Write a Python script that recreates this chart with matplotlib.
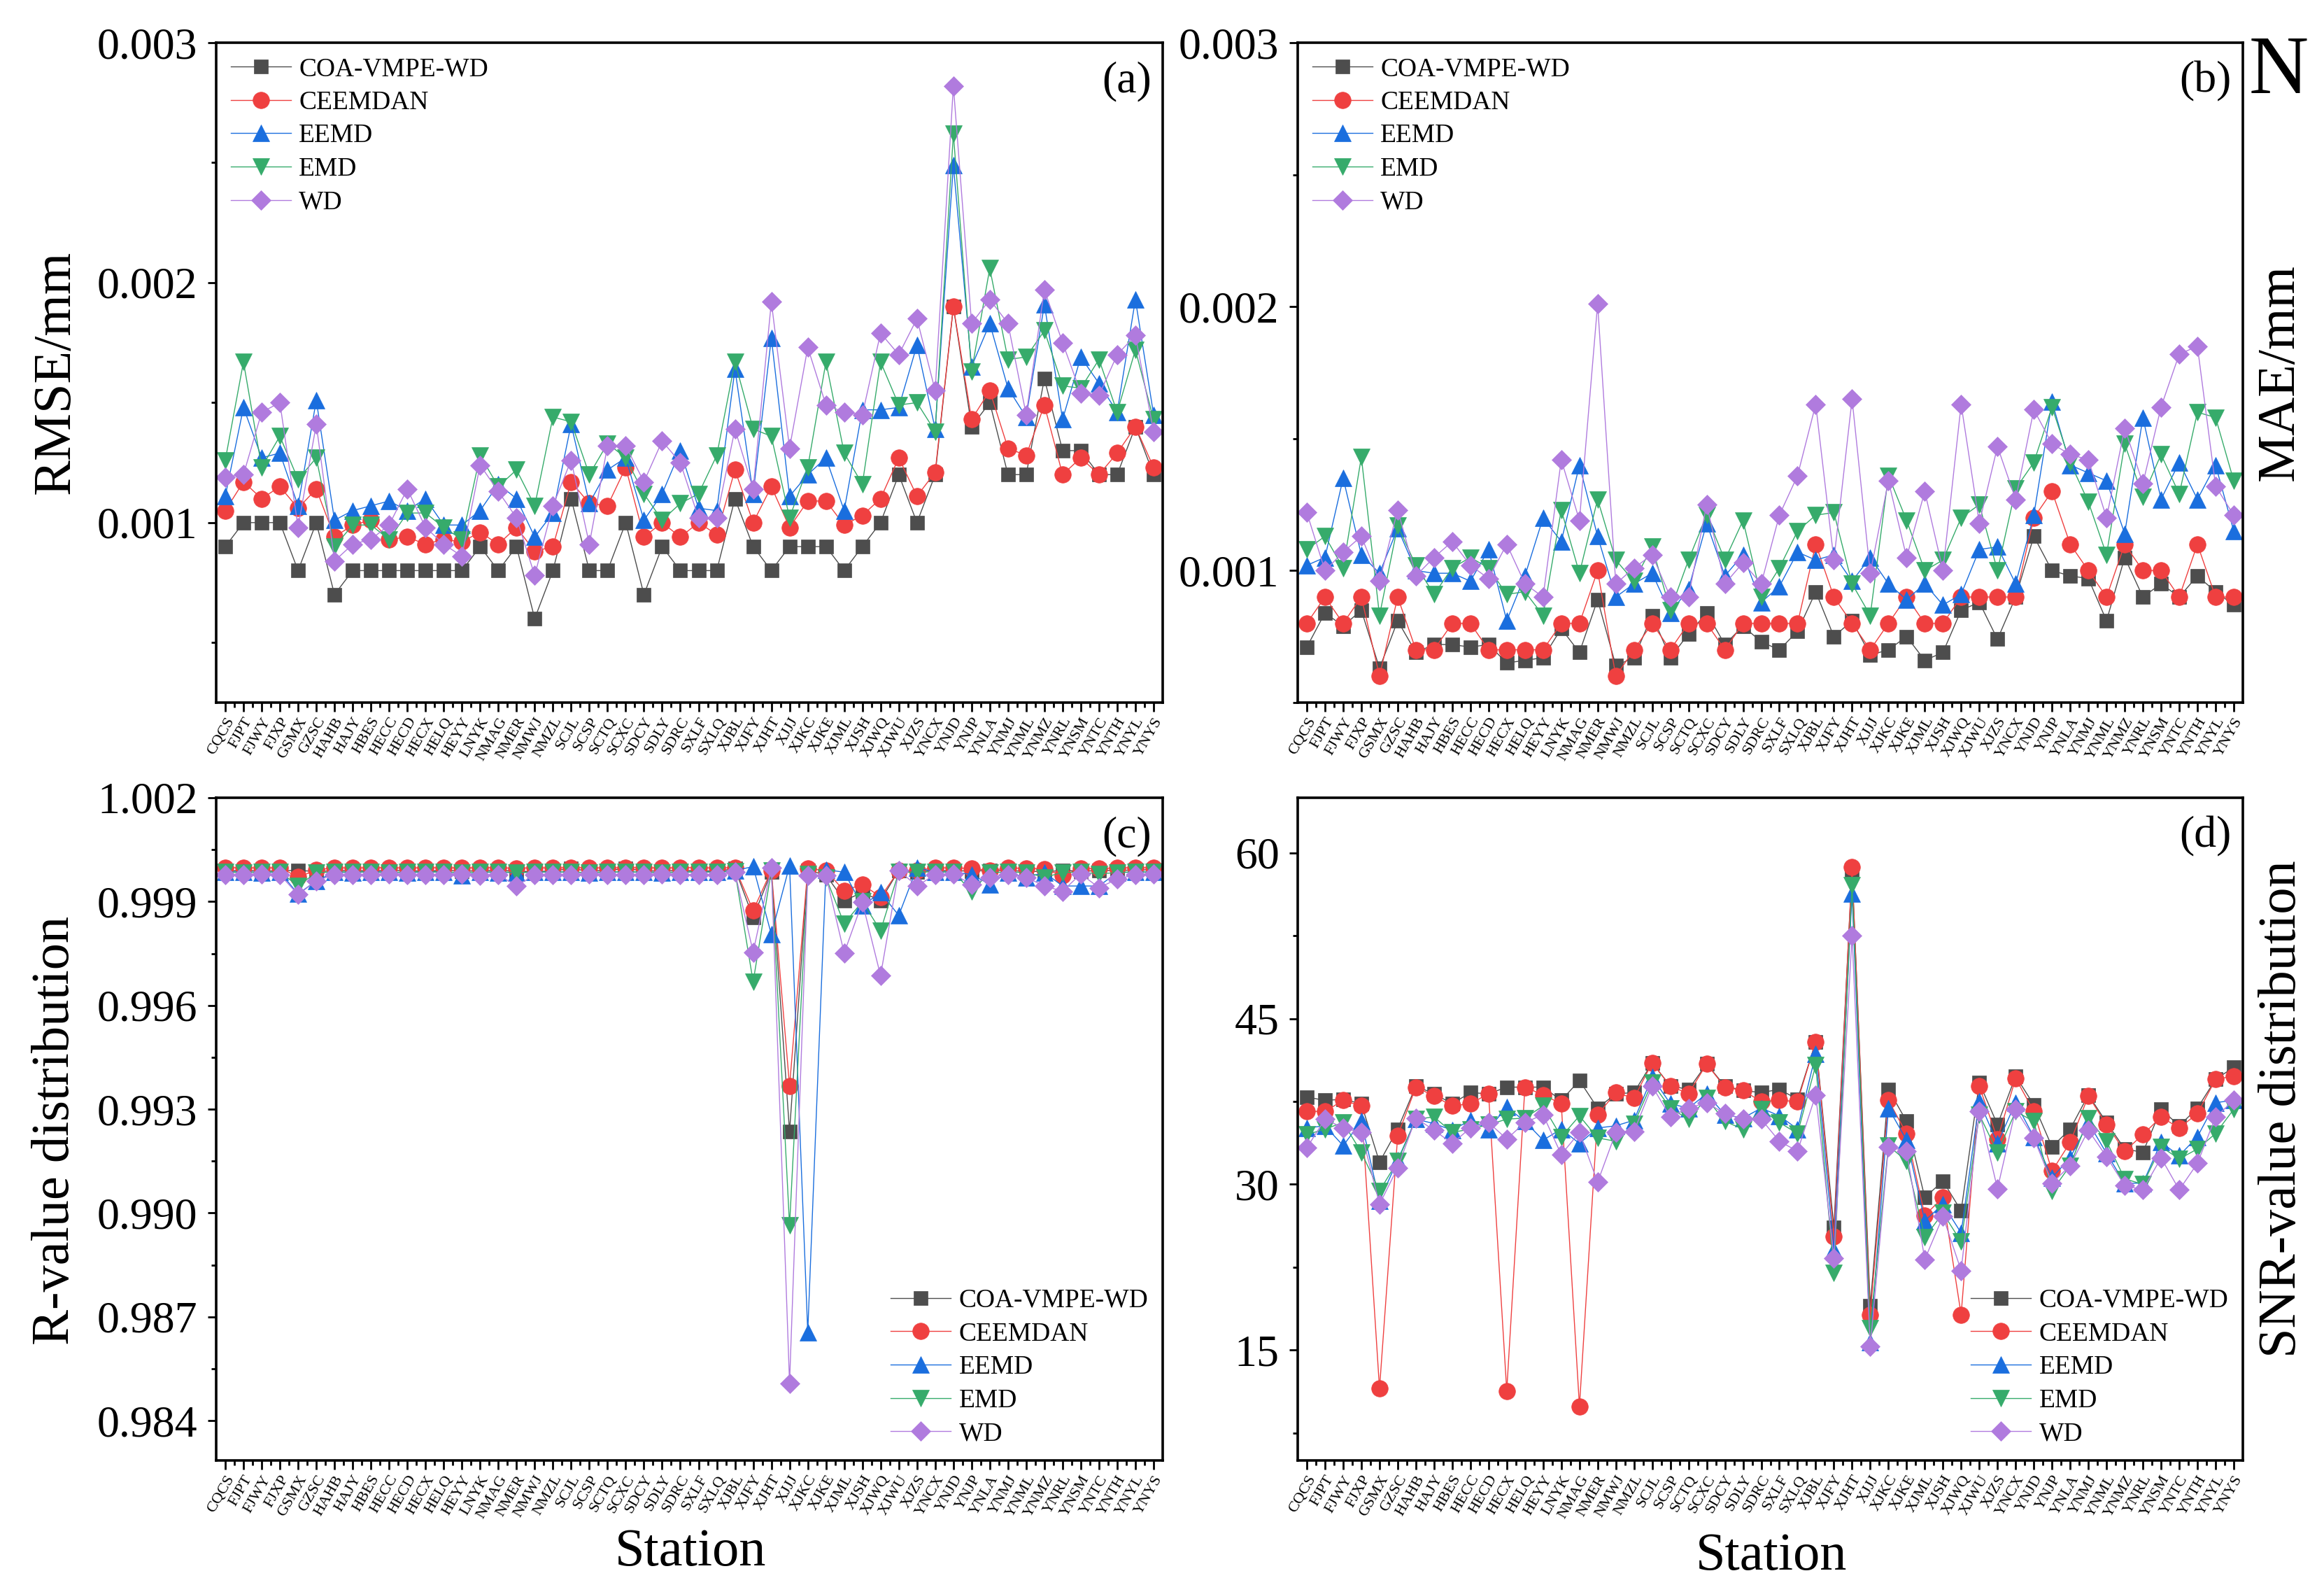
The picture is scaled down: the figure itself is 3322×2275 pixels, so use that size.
import matplotlib
matplotlib.use('Agg')
import matplotlib.pyplot as plt
from matplotlib.ticker import FixedLocator, FormatStrFormatter
import numpy as np

plt.rcParams['font.family'] = ['Liberation Serif', 'DejaVu Serif']

stations = ['CQCS', 'FJPT', 'FJWY', 'FJXP', 'GSMX', 'GZSC', 'HAHB', 'HAJY', 'HBES', 'HECC',
            'HECD', 'HECX', 'HELQ', 'HEYY', 'LNYK', 'NMAG', 'NMER', 'NMWJ', 'NMZL', 'SCJL',
            'SCSP', 'SCTQ', 'SCXC', 'SDCY', 'SDLY', 'SDRC', 'SXLF', 'SXLQ', 'XJBL', 'XJFY',
            'XJHT', 'XJJJ', 'XJKC', 'XJKE', 'XJML', 'XJSH', 'XJWQ', 'XJWU', 'XJZS', 'YNCX',
            'YNJD', 'YNJP', 'YNLA', 'YNMJ', 'YNML', 'YNMZ', 'YNRL', 'YNSM', 'YNTC', 'YNTH',
            'YNYL', 'YNYS']

names = ['COA-VMPE-WD', 'CEEMDAN', 'EEMD', 'EMD', 'WD']

# (a) RMSE
rmse_coa = [0.0009, 0.001, 0.001, 0.001, 0.0008, 0.001, 0.0007, 0.0008, 0.0008, 0.0008,
            0.0008, 0.0008, 0.0008, 0.0008, 0.0009, 0.0008, 0.0009, 0.0006, 0.0008, 0.0011,
            0.0008, 0.0008, 0.001, 0.0007, 0.0009, 0.0008, 0.0008, 0.0008, 0.0011, 0.0009,
            0.0008, 0.0009, 0.0009, 0.0009, 0.0008, 0.0009, 0.001, 0.0012, 0.001, 0.0012,
            0.0019, 0.0014, 0.0015, 0.0012, 0.0012, 0.0016, 0.0013, 0.0013, 0.0012, 0.0012,
            0.0014, 0.0012]
rmse_ceemdan = [0.00105, 0.00117, 0.0011, 0.00115, 0.00106, 0.00114, 0.00094, 0.00099, 0.00101, 0.00093,
                0.00094, 0.00091, 0.00093, 0.00092, 0.00096, 0.00091, 0.00098, 0.00088, 0.0009, 0.00117,
                0.00108, 0.00107, 0.00123, 0.00094, 0.001, 0.00094, 0.001, 0.00095, 0.00122, 0.001,
                0.00115, 0.00098, 0.00109, 0.00109, 0.00099, 0.00103, 0.0011, 0.00127, 0.00111, 0.00121,
                0.0019, 0.00143, 0.00155, 0.00131, 0.00128, 0.00149, 0.0012, 0.00127, 0.0012, 0.00129,
                0.0014, 0.00123]
rmse_eemd = [0.00111, 0.00148, 0.00127, 0.00129, 0.00107, 0.00151, 0.00101, 0.00105, 0.00107, 0.00109,
             0.00105, 0.0011, 0.00099, 0.00099, 0.00105, 0.00116, 0.0011, 0.00094, 0.00104, 0.00141,
             0.00108, 0.00122, 0.00127, 0.00101, 0.00112, 0.0013, 0.00106, 0.00105, 0.00164, 0.00112,
             0.00177, 0.00111, 0.0012, 0.00127, 0.00105, 0.00147, 0.00147, 0.00148, 0.00174, 0.00139,
             0.00249, 0.00165, 0.00183, 0.00156, 0.00144, 0.00191, 0.00143, 0.00169, 0.00158, 0.00146,
             0.00193, 0.00145]
rmse_emd = [0.00126, 0.00167, 0.00123, 0.00136, 0.00118, 0.00127, 0.0009, 0.00099, 0.00099, 0.00093,
            0.00104, 0.00104, 0.00098, 0.00093, 0.00128, 0.00115, 0.00122, 0.00107, 0.00144, 0.00142,
            0.0012, 0.00133, 0.00127, 0.00112, 0.00101, 0.00108, 0.00112, 0.00128, 0.00167, 0.00139,
            0.00136, 0.00102, 0.00123, 0.00167, 0.00129, 0.00116, 0.00167, 0.00149, 0.0015, 0.00138,
            0.00262, 0.00163, 0.00206, 0.00168, 0.00169, 0.0018, 0.00157, 0.00156, 0.00168, 0.00146,
            0.00172, 0.00143]
rmse_wd = [0.00119, 0.0012, 0.00146, 0.0015, 0.00098, 0.00141, 0.00084, 0.00091, 0.00093, 0.00099,
           0.00114, 0.00098, 0.00091, 0.00086, 0.00124, 0.00113, 0.00102, 0.00078, 0.00107, 0.00126,
           0.00091, 0.00132, 0.00132, 0.00117, 0.00134, 0.00125, 0.00102, 0.00102, 0.00139, 0.00114,
           0.00192, 0.00131, 0.00173, 0.00149, 0.00146, 0.00145, 0.00179, 0.0017, 0.00185, 0.00155,
           0.00282, 0.00183, 0.00193, 0.00183, 0.00145, 0.00197, 0.00175, 0.00154, 0.00153, 0.0017,
           0.00178, 0.00138]

# (b) MAE
mae_coa = [0.00071, 0.00084, 0.00079, 0.00085, 0.00063, 0.00081, 0.00069, 0.00072, 0.00072, 0.00071,
           0.00072, 0.00065, 0.00066, 0.00067, 0.00078, 0.00069, 0.00089, 0.00064, 0.00067, 0.00083,
           0.00067, 0.00076, 0.00084, 0.00072, 0.00079, 0.00073, 0.0007, 0.00077, 0.00092, 0.00075,
           0.00081, 0.00068, 0.0007, 0.00075, 0.00066, 0.00069, 0.00085, 0.00088, 0.00074, 0.0009,
           0.00113, 0.001, 0.00098, 0.00097, 0.00081, 0.00105, 0.0009, 0.00095, 0.0009, 0.00098,
           0.00092, 0.00087]
mae_ceemdan = [0.0008, 0.0009, 0.0008, 0.0009, 0.0006, 0.0009, 0.0007, 0.0007, 0.0008, 0.0008,
               0.0007, 0.0007, 0.0007, 0.0007, 0.0008, 0.0008, 0.001, 0.0006, 0.0007, 0.0008,
               0.0007, 0.0008, 0.0008, 0.0007, 0.0008, 0.0008, 0.0008, 0.0008, 0.0011, 0.0009,
               0.0008, 0.0007, 0.0008, 0.0009, 0.0008, 0.0008, 0.0009, 0.0009, 0.0009, 0.0009,
               0.0012, 0.0013, 0.0011, 0.001, 0.0009, 0.0011, 0.001, 0.001, 0.0009, 0.0011,
               0.0009, 0.0009]
mae_eemd = [0.00102, 0.00105, 0.00135, 0.00106, 0.00099, 0.00116, 0.001, 0.00099, 0.00099, 0.00096,
            0.00108, 0.00081, 0.00098, 0.0012, 0.00111, 0.0014, 0.00113, 0.0009, 0.00095, 0.00099,
            0.00084, 0.00093, 0.00118, 0.00098, 0.00106, 0.00088, 0.00094, 0.00107, 0.00104, 0.00106,
            0.00096, 0.00105, 0.00095, 0.00089, 0.00095, 0.00087, 0.00091, 0.00108, 0.00109, 0.00095,
            0.00121, 0.00164, 0.0014, 0.00137, 0.00134, 0.00114, 0.00158, 0.00127, 0.00141, 0.00127,
            0.0014, 0.00115]
mae_emd = [0.00108, 0.00113, 0.00101, 0.00143, 0.00083, 0.00117, 0.00102, 0.00091, 0.00101, 0.00105,
           0.00101, 0.00091, 0.00092, 0.00083, 0.00123, 0.00099, 0.00127, 0.00104, 0.00096, 0.00109,
           0.00085, 0.00104, 0.00121, 0.00104, 0.00119, 0.0009, 0.00101, 0.00115, 0.00121, 0.00122,
           0.00095, 0.00083, 0.00136, 0.00119, 0.001, 0.00104, 0.0012, 0.00125, 0.001, 0.00131,
           0.00141, 0.00162, 0.00141, 0.00126, 0.00106, 0.00148, 0.00128, 0.00144, 0.00129, 0.0016,
           0.00158, 0.00134]
mae_wd = [0.00122, 0.001, 0.00107, 0.00113, 0.00096, 0.00123, 0.00098, 0.00105, 0.00111, 0.00102,
          0.00097, 0.0011, 0.00095, 0.0009, 0.00142, 0.00119, 0.00201, 0.00095, 0.00101, 0.00106,
          0.0009, 0.0009, 0.00125, 0.00095, 0.00103, 0.00095, 0.00121, 0.00136, 0.00163, 0.00104,
          0.00165, 0.00099, 0.00134, 0.00105, 0.0013, 0.001, 0.00163, 0.00118, 0.00147, 0.00127,
          0.00161, 0.00148, 0.00144, 0.00142, 0.0012, 0.00154, 0.00133, 0.00162, 0.00182, 0.00185,
          0.00132, 0.00121]

# (c) R
r_coa = [0.99988, 0.99990, 0.99988, 0.99989, 0.99990, 0.99987, 0.99989, 0.99990, 0.99988, 0.99990,
         0.99989, 0.99988, 0.99990, 0.99988, 0.99989, 0.99990, 0.99988, 0.99986, 0.99989, 0.99995,
         0.99988, 0.99990, 0.99995, 0.99989, 0.99988, 0.99990, 0.99989, 0.99988, 0.99995, 0.99854,
         0.99986, 0.99235, 0.99990, 0.99977, 0.99903, 0.99926, 0.99903, 0.99990, 0.99985, 0.99990,
         0.99989, 0.99988, 0.99990, 0.99989, 0.99988, 0.99986, 0.99990, 0.99988, 0.99989, 0.99990,
         0.99991, 0.99992]
r_ceemdan = [0.99998, 0.99998, 0.99997, 0.99998, 0.99971, 0.99991, 0.99998, 0.99997, 0.99998, 0.99998,
             0.99997, 0.99998, 0.99998, 0.99997, 0.99998, 0.99998, 0.99996, 0.99998, 0.99997, 0.99998,
             0.99998, 0.99997, 0.99998, 0.99998, 0.99997, 0.99998, 0.99998, 0.99997, 0.99998, 0.99874,
             0.99990, 0.99367, 0.99995, 0.99990, 0.99931, 0.99950, 0.99913, 0.99990, 0.99990, 0.99998,
             0.99997, 0.99996, 0.99990, 0.99997, 0.99996, 0.99994, 0.99975, 0.99996, 0.99995, 0.99997,
             0.99998, 0.99998]
r_eemd = [0.99985, 0.99986, 0.99984, 0.99985, 0.99922, 0.99960, 0.99985, 0.99984, 0.99986, 0.99985,
          0.99984, 0.99985, 0.99986, 0.99975, 0.99985, 0.99984, 0.99984, 0.99985, 0.99986, 0.99985,
          0.99984, 0.99985, 0.99986, 0.99985, 0.99984, 0.99985, 0.99986, 0.99985, 0.99990, 1.00001,
          0.99805, 1.00004, 0.98655, 0.99992, 0.99985, 0.99888, 0.99926, 0.99860, 0.99998, 0.99985,
          0.99986, 0.99978, 0.99950, 0.99984, 0.99970, 0.99984, 0.99945, 0.99945, 0.99945, 0.99984,
          0.99985, 0.99986]
r_emd = [0.99985, 0.99984, 0.99985, 0.99986, 0.99945, 0.99984, 0.99985, 0.99986, 0.99985, 0.99984,
         0.99985, 0.99986, 0.99985, 0.99984, 0.99985, 0.99986, 0.99984, 0.99985, 0.99986, 0.99985,
         0.99984, 0.99985, 0.99986, 0.99985, 0.99984, 0.99985, 0.99986, 0.99985, 0.99988, 0.99668,
         0.99990, 0.98964, 0.99980, 0.99970, 0.99836, 0.99900, 0.99816, 0.99985, 0.99985, 0.99986,
         0.99985, 0.99930, 0.99984, 0.99985, 0.99984, 0.99970, 0.99984, 0.99985, 0.99980, 0.99984,
         0.99986, 0.99985]
r_wd = [0.99978, 0.99977, 0.99979, 0.99978, 0.99920, 0.99960, 0.99978, 0.99977, 0.99978, 0.99979,
        0.99978, 0.99977, 0.99978, 0.99979, 0.99975, 0.99978, 0.99945, 0.99978, 0.99977, 0.99978,
        0.99979, 0.99978, 0.99977, 0.99978, 0.99979, 0.99978, 0.99977, 0.99978, 0.99985, 0.99754,
        0.99998, 0.98508, 0.99976, 0.99976, 0.99751, 0.99898, 0.99686, 0.99990, 0.99945, 0.99978,
        0.99979, 0.99950, 0.99970, 0.99978, 0.99970, 0.99945, 0.99930, 0.99980, 0.99940, 0.99965,
        0.99978, 0.99980]

# (d) SNR
snr_coa = [37.9, 37.6, 37.7, 37.3, 32.0, 35.0, 38.9, 38.2, 37.3, 38.3,
           38.2, 38.8, 38.8, 38.8, 37.6, 39.4, 36.9, 38.2, 38.3, 41.0,
           38.9, 38.6, 40.9, 38.9, 38.5, 38.3, 38.6, 37.7, 42.9, 26.1,
           58.5, 19.0, 38.6, 35.7, 28.8, 30.3, 27.6, 39.2, 35.4, 39.8,
           37.2, 33.4, 35.0, 38.1, 35.6, 33.2, 32.9, 36.8, 35.3, 36.9,
           39.5, 40.6]
snr_ceemdan = [36.6, 36.6, 37.6, 37.1, 11.5, 34.4, 38.8, 38.0, 37.1, 37.3,
               38.2, 11.3, 38.8, 38.1, 37.3, 9.9, 36.3, 38.3, 37.8, 41.0,
               38.9, 38.2, 40.9, 38.8, 38.5, 37.5, 37.6, 37.5, 42.9, 25.3,
               58.7, 18.2, 37.6, 34.6, 27.2, 28.8, 18.2, 38.9, 34.1, 39.6,
               36.6, 31.2, 33.8, 38.0, 35.4, 33.0, 34.5, 36.1, 35.1, 36.4,
               39.5, 39.8]
snr_eemd = [35.1, 35.3, 33.5, 35.7, 28.5, 32.2, 35.9, 35.5, 34.9, 35.8,
            35.0, 37.0, 35.7, 34.0, 35.0, 33.7, 35.1, 35.3, 35.8, 39.7,
            37.3, 36.9, 38.2, 36.3, 36.0, 36.9, 36.2, 35.0, 41.8, 24.1,
            56.3, 15.7, 36.9, 34.0, 26.7, 28.2, 25.6, 37.5, 33.7, 37.4,
            34.3, 30.6, 32.4, 35.6, 32.8, 30.1, 30.1, 33.8, 32.6, 34.3,
            37.4, 37.6]
snr_emd = [34.5, 35.0, 35.6, 32.9, 29.4, 32.1, 35.9, 36.1, 34.7, 35.0,
           35.4, 35.9, 36.0, 37.1, 34.3, 36.2, 34.2, 33.9, 35.5, 39.2,
           36.9, 35.9, 37.8, 35.7, 35.0, 36.8, 35.6, 34.6, 40.8, 22.0,
           57.1, 17.0, 33.5, 32.1, 25.2, 27.4, 24.8, 36.3, 32.9, 36.6,
           35.7, 29.4, 31.7, 36.0, 33.9, 30.5, 30.0, 33.4, 32.3, 33.2,
           34.6, 36.8]
snr_wd = [33.3, 35.9, 35.1, 34.7, 28.2, 31.5, 36.0, 34.9, 33.7, 35.1,
          35.6, 34.1, 35.6, 36.3, 32.7, 34.7, 30.2, 34.7, 34.8, 38.9,
          36.1, 36.9, 37.4, 36.4, 35.9, 35.9, 33.9, 33.0, 38.1, 23.3,
          52.5, 15.3, 33.4, 33.0, 23.2, 27.1, 22.2, 36.6, 29.6, 36.8,
          34.2, 30.1, 31.7, 34.9, 32.5, 29.9, 29.5, 32.4, 29.5, 31.9,
          36.1, 37.6]

colors = ['#4d4d4d', '#ef4040', '#1a6ede', '#36ab6b', '#b07bde']
markers = ['s', 'o', '^', 'v', 'D']
msizes = [15, 17, 17, 17, 14.5]

W, H = 3322, 2275
fig = plt.figure(figsize=(W / 100, H / 100), dpi=100)
L1, R1 = 309 / W, 1662 / W
L2, R2 = 1855 / W, 3206 / W
T1, B1 = 1 - 61 / H, 1 - 1004 / H
T2, B2 = 1 - 1140 / H, 1 - 2087 / H

ax_a = fig.add_axes([L1, B1, R1 - L1, T1 - B1])
ax_b = fig.add_axes([L2, B1, R2 - L2, T1 - B1])
ax_c = fig.add_axes([L1, B2, R1 - L1, T2 - B2])
ax_d = fig.add_axes([L2, B2, R2 - L2, T2 - B2])


def draw(ax, series, ylim, majors, minors, fmt, loc, tag, ypad):
    x = np.arange(len(stations))
    for name, vals, c, m, ms in zip(names, series, colors, markers, msizes):
        ax.plot(x, vals, color=c, lw=1.0, marker=m, ms=ms, mec=c, mew=0.5, label=name)
    ax.set_xlim(-0.5, len(stations) - 0.5)
    ax.set_ylim(*ylim)
    ax.xaxis.set_major_locator(FixedLocator(x))
    ax.set_xticklabels(stations, rotation=60, ha='right', rotation_mode='anchor', fontsize=16)
    ax.xaxis.set_minor_locator(FixedLocator(x[:-1] + 0.5))
    ax.yaxis.set_major_locator(FixedLocator(majors))
    ax.yaxis.set_minor_locator(FixedLocator(minors))
    ax.yaxis.set_major_formatter(FormatStrFormatter(fmt))
    ax.tick_params(which='both', direction='out', top=False, right=False, width=2)
    ax.tick_params(which='major', length=9)
    ax.tick_params(which='minor', length=5)
    ax.tick_params(axis='y', labelsize=46, pad=ypad)
    ax.tick_params(axis='x', pad=4)
    for s in ax.spines.values():
        s.set_linewidth(2.6)
    ax.legend(loc=loc, frameon=False, fontsize=27, handlelength=2.3, handletextpad=0.3,
              labelspacing=0.35, borderpad=0.35, borderaxespad=0.2, numpoints=1)
    ax.text(0.988, 0.972, tag, transform=ax.transAxes, ha='right', va='top', fontsize=46)


draw(ax_a, [rmse_coa, rmse_ceemdan, rmse_eemd, rmse_emd, rmse_wd], (0.00025, 0.003),
     [0.001, 0.002, 0.003], [0.0005, 0.0015, 0.0025], '%.3f', 'upper left', '(a)', 10)
draw(ax_b, [mae_coa, mae_ceemdan, mae_eemd, mae_emd, mae_wd], (0.0005, 0.003),
     [0.001, 0.002, 0.003], [0.0005, 0.0015, 0.0025], '%.3f', 'upper left', '(b)', 10)
draw(ax_c, [r_coa, r_ceemdan, r_eemd, r_emd, r_wd], (0.98285, 1.002),
     [0.984, 0.987, 0.990, 0.993, 0.996, 0.999, 1.002],
     [0.9855, 0.9885, 0.9915, 0.9945, 0.9975, 1.0005], '%.3f', 'lower right', '(c)', 10)
draw(ax_d, [snr_coa, snr_ceemdan, snr_eemd, snr_emd, snr_wd], (5, 65),
     [15, 30, 45, 60], [7.5, 22.5, 37.5, 52.5], '%d', 'lower right', '(d)', 10)

fig.text(80 / W, 1 - 532 / H, 'RMSE/mm', rotation=90, ha='center', va='center', fontsize=55)
fig.text(3259 / W, 1 - 532 / H, 'MAE/mm', rotation=90, ha='center', va='center', fontsize=55)
fig.text(80 / W, 1 - 1615 / H, 'R-value distribution', rotation=90, ha='center', va='center', fontsize=55)
fig.text(3262 / W, 1 - 1585 / H, 'SNR-value distribution', rotation=90, ha='center', va='center', fontsize=55)
fig.text(987 / W, 1 - 2219 / H, 'Station', ha='center', va='center', fontsize=55)
fig.text(2532 / W, 1 - 2225 / H, 'Station', ha='center', va='center', fontsize=55)
fig.text(3257 / W, 1 - 104 / H, 'N', ha='center', va='center', fontsize=85)

fig.savefig('out.png', dpi=100)
